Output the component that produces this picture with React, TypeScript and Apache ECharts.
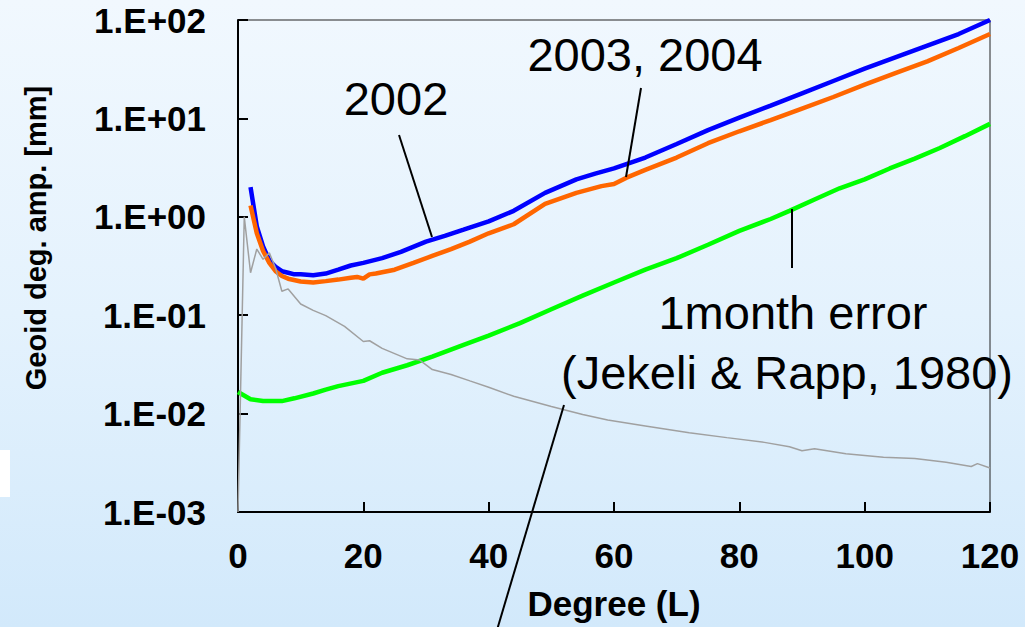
import React, { useEffect, useRef } from "react";
import * as echarts from "echarts";

// ---- data ----
const degrees2002 = [2, 3, 4, 5, 6, 7, 8, 9, 10, 12, 14, 16, 18, 20, 23, 26, 30, 33, 36, 40, 44, 49, 54, 57, 60, 65, 70, 75, 80, 85, 90, 95, 100, 105, 110, 115, 120];
const values2002 = [2.0, 0.8, 0.5, 0.36, 0.31, 0.28, 0.27, 0.26, 0.26, 0.255, 0.265, 0.29, 0.32, 0.34, 0.38, 0.44, 0.56, 0.64, 0.74, 0.9, 1.15, 1.75, 2.4, 2.75, 3.1, 4.0, 5.5, 7.6, 10.2, 13.5, 18, 24, 32, 42, 55, 72, 100];

const degrees2003 = [2, 3, 4, 5, 6, 7, 8, 10, 12, 14, 16, 18, 19, 20, 21, 22, 25, 28, 31, 34, 37, 40, 44, 49, 54, 58, 60, 62, 65, 70, 75, 80, 85, 90, 95, 100, 105, 110, 115, 120];
const values2003 = [1.3, 0.68, 0.45, 0.34, 0.28, 0.25, 0.235, 0.22, 0.215, 0.222, 0.23, 0.24, 0.245, 0.235, 0.26, 0.265, 0.29, 0.34, 0.40, 0.47, 0.56, 0.68, 0.84, 1.35, 1.75, 2.05, 2.15, 2.5, 3.0, 4.0, 5.6, 7.4, 9.6, 12.6, 16.5, 22, 29, 38, 52, 72];

const degreesError = [0, 2, 4, 7, 9, 12, 14, 16, 20, 23, 27, 31, 36, 40, 45, 50, 55, 60, 65, 70, 75, 80, 85, 88, 92, 96, 100, 104, 108, 112, 116, 120];
const valuesError = [0.0166, 0.014, 0.0134, 0.0134, 0.0143, 0.016, 0.0175, 0.019, 0.0215, 0.026, 0.031, 0.038, 0.05, 0.062, 0.083, 0.115, 0.158, 0.215, 0.29, 0.38, 0.52, 0.72, 0.95, 1.15, 1.5, 1.95, 2.4, 3.1, 3.9, 5.0, 6.6, 8.8];

const degreesSignal = [0, 1, 2, 3, 4, 5, 6, 7, 8, 10, 12, 14, 17, 20, 21, 23, 27, 29, 31, 34, 37, 40, 44, 50, 55, 59, 65, 72, 78, 84, 88, 90, 92, 97, 103, 108, 113, 117, 118, 120];
const valuesSignal = [0.001, 1.0, 0.27, 0.47, 0.37, 0.43, 0.3, 0.175, 0.185, 0.13, 0.112, 0.099, 0.077, 0.054, 0.055, 0.046, 0.036, 0.035, 0.028, 0.025, 0.0215, 0.0185, 0.015, 0.0118, 0.0098, 0.0086, 0.0075, 0.0064, 0.0057, 0.0051, 0.0046, 0.0042, 0.0044, 0.0039, 0.0036, 0.0035, 0.0032, 0.0029, 0.0031, 0.0028];

const yTickLabels = ["1.E-03", "1.E-02", "1.E-01", "1.E+00", "1.E+01", "1.E+02"];
const xTickValues = [0, 20, 40, 60, 80, 100, 120];

const FONT = '"Liberation Sans", Arial, sans-serif';

function pairs(xs: number[], ys: number[]) {
  return xs.map((x, i) => [x, ys[i]]);
}

export default function App() {
  const ref = useRef<HTMLDivElement>(null);

  useEffect(() => {
    if (!ref.current) return;
    const chart = echarts.init(ref.current, null, { renderer: "svg" });

    const lineSeries = (name: string, data: number[][], color: string, width: number) => ({
      type: "line",
      name,
      data,
      showSymbol: false,
      symbol: "none",
      smooth: false,
      lineStyle: { color, width },
      z: 3,
    });

    const annot = (text: string, x: number, y: number) => ({
      type: "text",
      x,
      y,
      z: 10,
      style: { text, font: `47px ${FONT}`, fill: "#000", align: "center", verticalAlign: "middle" },
    });

    chart.setOption({
      animation: false,
      backgroundColor: "transparent",
      grid: {
        left: 238,
        right: 35,
        top: 20,
        bottom: 115,
        show: true,
        borderColor: "#222",
        borderWidth: 1,
        backgroundColor: "transparent",
      },
      xAxis: {
        type: "value",
        min: xTickValues[0],
        max: xTickValues[xTickValues.length - 1],
        interval: 20,
        name: "Degree (L)",
        nameLocation: "middle",
        nameGap: 74,
        nameTextStyle: { fontSize: 35, fontWeight: "bold", color: "#000", fontFamily: FONT },
        axisLine: { show: true, onZero: false, lineStyle: { color: "#000", width: 2 } },
        axisTick: { show: true, inside: true, length: 10, lineStyle: { color: "#000", width: 2 } },
        axisLabel: { fontSize: 35, fontWeight: "bold", color: "#000", fontFamily: FONT, margin: 26 },
        splitLine: { show: false },
      },
      yAxis: {
        type: "log",
        logBase: 10,
        min: 0.001,
        max: 100,
        axisLine: { show: true, lineStyle: { color: "#000", width: 2 } },
        axisTick: { show: true, inside: true, length: 10, lineStyle: { color: "#000", width: 2 } },
        axisLabel: {
          fontSize: 35,
          fontWeight: "bold",
          color: "#000",
          fontFamily: FONT,
          margin: 32,
          formatter: (v: number) => {
            const e = Math.round(Math.log10(v));
            return yTickLabels[e + 3] ?? "";
          },
        },
        splitLine: { show: false },
      },
      series: [
        lineSeries("2002", pairs(degrees2002, values2002), "#0000ff", 4.5),
        lineSeries("2003, 2004", pairs(degrees2003, values2003), "#ff6600", 4.5),
        lineSeries("1month error", pairs(degreesError, valuesError), "#00ff00", 4.5),
        lineSeries("signal", pairs(degreesSignal, valuesSignal), "#a0a0a0", 1.5),
      ],
      graphic: [
        { type: "rect", shape: { x: 0, y: 450, width: 10, height: 47 }, style: { fill: "#ffffff" }, z: 1 },
        {
          type: "text",
          x: 36,
          y: 238,
          rotation: Math.PI / 2,
          style: {
            text: "Geoid deg. amp. [mm]",
            font: `bold 29px ${FONT}`,
            fill: "#000",
            align: "center",
            verticalAlign: "middle",
          },
        },
        annot("2002", 396, 98),
        annot("2003, 2004", 645, 54),
        annot("1month error", 793, 312),
        annot("(Jekeli & Rapp, 1980)", 787, 372),
        { type: "line", shape: { x1: 399, y1: 135, x2: 432, y2: 237 }, style: { stroke: "#000", lineWidth: 2 }, z: 10 },
        { type: "line", shape: { x1: 641, y1: 88, x2: 626, y2: 177 }, style: { stroke: "#000", lineWidth: 2 }, z: 10 },
        { type: "line", shape: { x1: 792, y1: 209, x2: 792, y2: 268 }, style: { stroke: "#000", lineWidth: 2 }, z: 10 },
        { type: "line", shape: { x1: 564, y1: 405, x2: 497, y2: 630 }, style: { stroke: "#000", lineWidth: 2 }, z: 10 },
      ],
    });

    return () => chart.dispose();
  }, []);

  return (
    <div
      ref={ref}
      style={{
        position: "fixed",
        left: 0,
        top: 0,
        width: 1025,
        height: 627,
        background: "linear-gradient(to bottom, #f1f8fe 0%, #e4f2fd 50%, #d2e9fb 100%)",
      }}
    />
  );
}
